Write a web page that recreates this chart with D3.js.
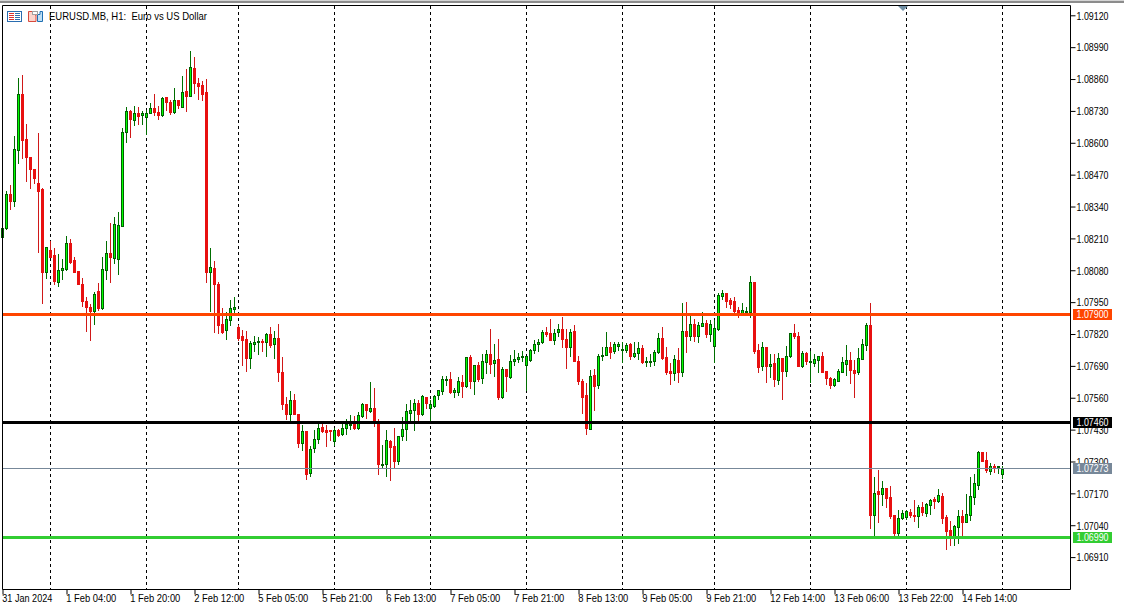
<!DOCTYPE html>
<html><head><meta charset="utf-8">
<script src="https://cdn.jsdelivr.net/npm/d3@7/dist/d3.min.js"></script>
<style>
html,body{margin:0;padding:0;background:#fff;overflow:hidden}
svg{display:block}
text{font-family:"Liberation Sans",Arial,sans-serif;white-space:pre}
</style></head><body>
<svg id="c" width="1124" height="607"></svg>
<script>
const symbolTitle = "EURUSD.MB, H1:  Euro vs US Dollar";
const priceTicks = [1.0912,1.0899,1.0886,1.0873,1.0860,1.0847,1.0834,1.0821,1.0808,1.0795,1.0782,1.0769,1.0756,1.0743,1.0730,1.0717,1.0704,1.0691];
const timeTickBars = [0,16,32,48,64,80,96,112,128,144,160,176,192,208,224,240];
const timeTickLabels = ["31 Jan 2024","1 Feb 04:00","1 Feb 20:00","2 Feb 12:00","5 Feb 05:00","5 Feb 21:00","6 Feb 13:00","7 Feb 05:00","7 Feb 21:00","8 Feb 13:00","9 Feb 05:00","9 Feb 21:00","12 Feb 14:00","13 Feb 06:00","13 Feb 22:00","14 Feb 14:00"];
const separatorBars = [12,36,59,83,107,131,155,178,202,226,250];
const levels = [
 {price:1.0790,label:"1.07900",color:"#ff4500",width:3},
 {price:1.0746,label:"1.07460",color:"#000000",width:3},
 {price:1.07273,label:"1.07273",color:"#778899",width:1},
 {price:1.0699,label:"1.06990",color:"#32cd32",width:3}
];
// hourly candles, prices in points (1e-5)
const direction = "GGRGGRRRRR"+"RGRRGGGRRR"+"RRRGRGGRGG"+"GGRGRGGGRR"+"GRRGRGRGRR"+"RRGRRRGGGR"+"RRGGGRGRGR"+"RRGRRGRGGG"+"RRRGRGGGRG"+"GRGRRGGRRG"+"GGGGRGRGGG"+"GGRGGRGRGR"+"GGRGRGRGGG"+"GGGGGGRRGG"+"RRGRRRRGRG"+"GGRGGGGRGG"+"RGGGGRRRGR"+"GRGRGGRGGG"+"GRRRRGGGRR"+"GRGRGRGGRR"+"GRGGGRRRGG"+"GGRRGGGRGR"+"GRRRGGGRRG"+"RGGRGRRRGG"+"RGGGGRRGRGG";
const highs = [
108253,108406,108430,108630,108865,108879,108679,108543,108495,108642,
108417,108176,108203,108172,108149,108127,108222,108210,108135,108078,
108049,107972,107945,107995,108029,108138,108202,108275,108298,108320,
108661,108747,108736,108753,108748,108731,108736,108763,108801,108753,
108789,108788,108777,108825,108777,108875,108903,108977,108952,108865,
108856,108863,108173,108120,108036,107927,107911,107961,107972,107860,
107840,107836,107792,107815,107811,107802,107826,107852,107836,107864,
107730,107564,107590,107579,107496,107452,107426,107364,107432,107455,
107455,107449,107432,107439,107435,107462,107475,107493,107489,107505,
107542,107537,107626,107603,107477,107371,107432,107388,107439,107407,
107485,107538,107554,107557,107551,107573,107565,107553,107575,107595,
107652,107652,107668,107603,107646,107656,107728,107736,107697,107709,
107741,107758,107843,107782,107803,107687,107679,107737,107758,107744,
107751,107733,107761,107799,107803,107837,107852,107884,107843,107864,
107892,107843,107843,107860,107733,107639,107623,107676,107680,107741,
107770,107831,107789,107789,107789,107789,107785,107785,107789,107789,
107778,107729,107741,107758,107827,107851,107768,107703,107737,107764,
107949,107953,107900,107884,107869,107913,107880,107880,107880,107989,
108002,107990,107970,107974,107933,107949,107933,108060,108035,107782,
107790,107770,107739,107741,107745,107725,107774,107827,107864,107831,
107754,107749,107754,107741,107733,107749,107672,107647,107643,107680,
107729,107778,107749,107717,107766,107802,107868,107949,107238,107268,
107223,107193,107203,107085,107105,107105,107105,107109,107146,107125,
107138,107134,107150,107157,107191,107173,107085,107060,107044,107105,
107105,107170,107238,107252,107346,107342,107342,107297,107293,107285,
107282];
const bodyTops = [
108253,108392,108392,108577,108800,108800,108617,108543,108495,108438,
108414,108176,108165,108145,108082,108090,108192,108192,108124,108078,
108026,107956,107932,107984,107996,108086,108151,108151,108270,108266,
108645,108731,108731,108723,108723,108723,108723,108743,108743,108729,
108784,108788,108769,108776,108777,108808,108812,108910,108908,108845,
108838,108808,108094,108090,108025,107862,107882,107927,107932,107852,
107815,107802,107785,107789,107794,107795,107822,107822,107806,107806,
107668,107537,107553,107553,107496,107426,107426,107353,107394,107439,
107443,107432,107432,107432,107432,107439,107456,107456,107456,107492,
107537,107537,107520,107520,107460,107292,107390,107386,107365,107406,
107435,107508,107512,107541,107541,107569,107565,107535,107569,107594,
107638,107638,107638,107593,107630,107626,107728,107728,107695,107695,
107712,107740,107740,107716,107720,107679,107679,107712,107720,107728,
107733,107732,107755,107781,107789,107830,107830,107826,107826,107843,
107843,107803,107830,107834,107713,107631,107574,107652,107656,107733,
107737,107770,107770,107782,107781,107761,107778,107782,107746,107766,
107766,107713,107712,107750,107807,107805,107729,107672,107721,107717,
107835,107835,107864,107864,107860,107868,107868,107864,107847,107982,
107990,107990,107962,107958,107921,107921,107917,108035,108035,107758,
107770,107770,107700,107705,107725,107725,107733,107827,107827,107815,
107745,107745,107713,107721,107733,107733,107672,107643,107639,107672,
107709,107717,107717,107676,107725,107782,107860,107860,107173,107181,
107193,107193,107157,107085,107071,107093,107100,107097,107085,107116,
107116,107128,107146,107149,107165,107162,107076,107022,107040,107079,
107081,107089,107161,107214,107342,107342,107309,107285,107285,107282,
107273];
const bodyBottoms = [
108219,108255,108365,108366,108574,108615,108544,108495,108459,108407,
108077,108077,108138,108039,108036,108085,108089,108117,108077,108028,
107958,107934,107916,107916,107930,107930,108082,108138,108134,108126,
108264,108648,108701,108697,108713,108717,108709,108725,108728,108717,
108717,108770,108728,108729,108757,108746,108793,108791,108844,108835,
108801,108073,108073,108024,107860,107832,107837,107881,107924,107807,
107796,107724,107726,107780,107788,107788,107788,107779,107780,107668,
107538,107494,107494,107494,107376,107376,107252,107254,107356,107392,
107428,107424,107425,107384,107409,107414,107437,107452,107437,107437,
107489,107511,107507,107462,107290,107289,107290,107360,107303,107304,
107407,107433,107498,107511,107494,107494,107539,107519,107528,107573,
107588,107633,107586,107586,107586,107611,107611,107629,107629,107639,
107641,107709,107701,107702,107565,107566,107649,107645,107712,107720,
107727,107695,107716,107755,107780,107788,107823,107799,107796,107829,
107800,107771,107771,107713,107629,107567,107437,107434,107611,107612,
107735,107735,107747,107751,107775,107755,107758,107731,107731,107743,
107706,107710,107710,107710,107747,107724,107668,107664,107665,107668,
107669,107815,107815,107815,107815,107856,107824,107823,107774,107841,
107978,107958,107945,107917,107904,107907,107914,107913,107754,107688,
107692,107692,107692,107639,107635,107672,107672,107733,107815,107692,
107692,107713,107710,107705,107717,107668,107643,107615,107615,107631,
107668,107700,107676,107664,107668,107721,107778,107085,107082,107168,
107168,107153,107081,107010,107010,107072,107074,107083,107081,107078,
107097,107093,107125,107142,107140,107072,107019,106999,106999,107036,
107056,107056,107085,107158,107207,107306,107268,107264,107275,107279,
107251];
const lows = [
108219,108249,108332,108345,108521,108542,108447,108418,108440,108158,
107950,108052,108135,108028,108018,108045,108083,108111,108077,108028,
107938,107836,107799,107864,107920,107926,108045,108036,108111,108068,
108263,108607,108627,108675,108679,108679,108636,108725,108717,108698,
108712,108736,108721,108723,108742,108746,108732,108791,108804,108781,
108777,108034,107917,107830,107825,107825,107802,107859,107900,107799,
107697,107673,107685,107754,107742,107753,107734,107770,107726,107632,
107516,107475,107469,107494,107362,107350,107232,107244,107339,107376,
107421,107367,107390,107368,107407,107411,107415,107436,107435,107433,
107483,107481,107505,107448,107252,107275,107241,107225,107278,107290,
107388,107388,107459,107432,107459,107493,107522,107463,107524,107557,
107578,107612,107582,107566,107573,107566,107605,107603,107578,107629,
107623,107663,107661,107652,107558,107563,107591,107644,107697,107706,
107710,107595,107713,107744,107751,107785,107815,107796,107781,107812,
107767,107684,107733,107710,107619,107498,107415,107433,107513,107600,
107714,107735,107725,107744,107758,107709,107748,107721,107728,107721,
107702,107693,107693,107697,107744,107721,107660,107619,107635,107627,
107652,107749,107798,107794,107790,107856,107811,107794,107709,107839,
107966,107933,107929,107904,107892,107904,107910,107892,107745,107668,
107676,107627,107647,107611,107619,107558,107652,107729,107807,107692,
107688,107700,107627,107692,107668,107668,107619,107603,107611,107631,
107668,107656,107623,107566,107660,107721,107758,107030,107003,107057,
107125,107117,107071,107003,107003,107068,107068,107075,107059,107033,
107085,107081,107087,107113,107138,107051,106946,106962,106962,106970,
107003,107056,107064,107129,107191,107302,107260,107252,107260,107256,
107236];

const UP_WICK="#006e00", UP_EDGE="#005f00", UP_FILL="#00ff00", DOWN="#e81010", DOWN_WICK="#d01818";
const svg=d3.select("#c");
const plot={left:2,right:1070,top:5,bottom:589};
const x=d3.scaleLinear().domain([0,250]).range([2.5,1002.5]);
const y=d3.scaleLinear().domain([1.0691,1.0912]).range([557.1,15.3]);
const px=v=>Math.ceil(y(v/1e5));

// window chrome
svg.append("rect").attr("x",0).attr("y",0).attr("width",1124).attr("height",607).attr("fill","#fff");
svg.append("rect").attr("x",0).attr("y",0).attr("width",1124).attr("height",1).attr("fill","#d4d4d4");
svg.append("rect").attr("x",0).attr("y",1).attr("width",1124).attr("height",2).attr("fill","#8c8c8c");

// separators
svg.append("g").selectAll("line").data(separatorBars).join("line")
 .attr("x1",d=>x(d)).attr("x2",d=>x(d)).attr("y1",plot.top+1).attr("y2",plot.bottom)
 .attr("stroke","#000").attr("stroke-width",1).attr("stroke-dasharray","3,3");

// candles
const bars=d3.range(highs.length).map(i=>({i,up:direction[i]==="G",
  open:direction[i]==="G"?bodyBottoms[i]:bodyTops[i],
  close:direction[i]==="G"?bodyTops[i]:bodyBottoms[i],
  high:highs[i],low:lows[i]}));
const g=svg.append("g").attr("class","candles");
g.selectAll("line").data(bars).join("line")
 .attr("x1",d=>x(d.i)).attr("x2",d=>x(d.i))
 .attr("y1",d=>px(d.high)).attr("y2",d=>px(d.low)+1)
 .attr("stroke",d=>d.up?UP_WICK:DOWN_WICK).attr("stroke-width",1).attr("shape-rendering","crispEdges");
g.selectAll("rect").data(bars).join("rect")
 .attr("x",d=>x(d.i)-1).attr("width",2)
 .attr("y",d=>px(Math.max(d.open,d.close))+0.5)
 .attr("height",d=>Math.max(1,px(Math.min(d.open,d.close))-px(Math.max(d.open,d.close))))
 .attr("fill",d=>d.up?UP_FILL:DOWN)
 .attr("stroke",d=>d.up?UP_EDGE:DOWN).attr("stroke-width",1).attr("shape-rendering","crispEdges");

// horizontal levels
const levelY=d=>Math.floor(y(d.price))+0.5;
svg.append("g").selectAll("line").data(levels).join("line")
 .attr("x1",plot.left).attr("x2",plot.right)
 .attr("y1",levelY).attr("y2",levelY)
 .attr("stroke",d=>d.color).attr("stroke-width",d=>d.width);

// frame
svg.append("path").attr("d",`M${plot.left+.5},${plot.bottom+.5}V${plot.top+.5}H${plot.right+.5}V${plot.bottom+.5}H${plot.left+.5}`)
 .attr("fill","none").attr("stroke","#000").attr("stroke-width",1);

// price axis
const axisR=d3.axisRight(y).tickValues(priceTicks).tickFormat(d3.format(".5f")).tickSize(5).tickSizeOuter(0);
const ga=svg.append("g").attr("transform",`translate(${plot.right+.5},0)`).call(axisR);
ga.select(".domain").remove();
ga.selectAll(".tick line").attr("stroke","#000");
ga.selectAll(".tick text").attr("x",6).attr("dy","0.36em").attr("fill","#000").attr("font-size","10.5px")
 .attr("font-family","'Liberation Sans'").attr("textLength",32).attr("lengthAdjust","spacingAndGlyphs");

// time axis
const labelOf=new Map(timeTickBars.map((b,i)=>[b,timeTickLabels[i]]));
const axisB=d3.axisBottom(x).tickValues(timeTickBars).tickFormat(d=>labelOf.get(d)).tickSize(5).tickSizeOuter(0);
const gb=svg.append("g").attr("transform",`translate(0,${plot.bottom+.5})`).call(axisB);
gb.select(".domain").remove();
gb.selectAll(".tick line").attr("stroke","#000");
gb.selectAll(".tick text").attr("text-anchor","start").attr("x",-0.7).attr("y",5).attr("dy","0.71em")
 .attr("fill","#000").attr("font-size","10.5px").attr("font-family","'Liberation Sans'")
 .attr("textLength",(d,i)=>timeTickLabels[i].length>=12?55:50).attr("lengthAdjust","spacingAndGlyphs");

// price tags
const tags=svg.append("g").selectAll("g").data(levels).join("g")
 .attr("transform",d=>`translate(1073,${Math.floor(y(d.price))-5})`);
tags.append("rect").attr("width",39).attr("height",11).attr("fill",d=>d.color);
tags.append("text").text(d=>d.label).attr("x",3.5).attr("y",9.2).attr("fill","#fff").attr("font-size","10.5px")
 .attr("textLength",32).attr("lengthAdjust","spacingAndGlyphs");

// top marker
svg.append("path").attr("d","M898,6H908L903,11Z").attr("fill","#6f8ea3");

// header icons
const ic=svg.append("g");
ic.append("rect").attr("x",7.5).attr("y",11.5).attr("width",14).attr("height",10).attr("fill","#fff").attr("stroke","#2a6db0");
[13,15,17,19].forEach(r=>ic.append("rect").attr("x",9).attr("y",r).attr("width",5).attr("height",1).attr("fill","#d83030"));
[13,15,17,19].forEach(r=>ic.append("rect").attr("x",15).attr("y",r).attr("width",5).attr("height",1).attr("fill","#2a6db0"));
ic.append("path").attr("d","M28.5,11.5H35V15H36V21.5H28.5Z").attr("fill","#fbd4cc").attr("stroke","#d8493c");
ic.append("path").attr("d","M37.5,21.5V14.5H40V11.5H42.5V21.5Z").attr("fill","#bfe0f5").attr("stroke","#1f6fb2");
ic.append("rect").attr("x",32.5).attr("y",11.5).attr("width",5).attr("height",3).attr("fill","#fff").attr("stroke","#a0a0a0");

// title
svg.append("text").text(symbolTitle).attr("x",49).attr("y",20).attr("fill","#000").attr("font-size","10.5px")
 .attr("textLength",158).attr("lengthAdjust","spacingAndGlyphs");
</script>
</body></html>
